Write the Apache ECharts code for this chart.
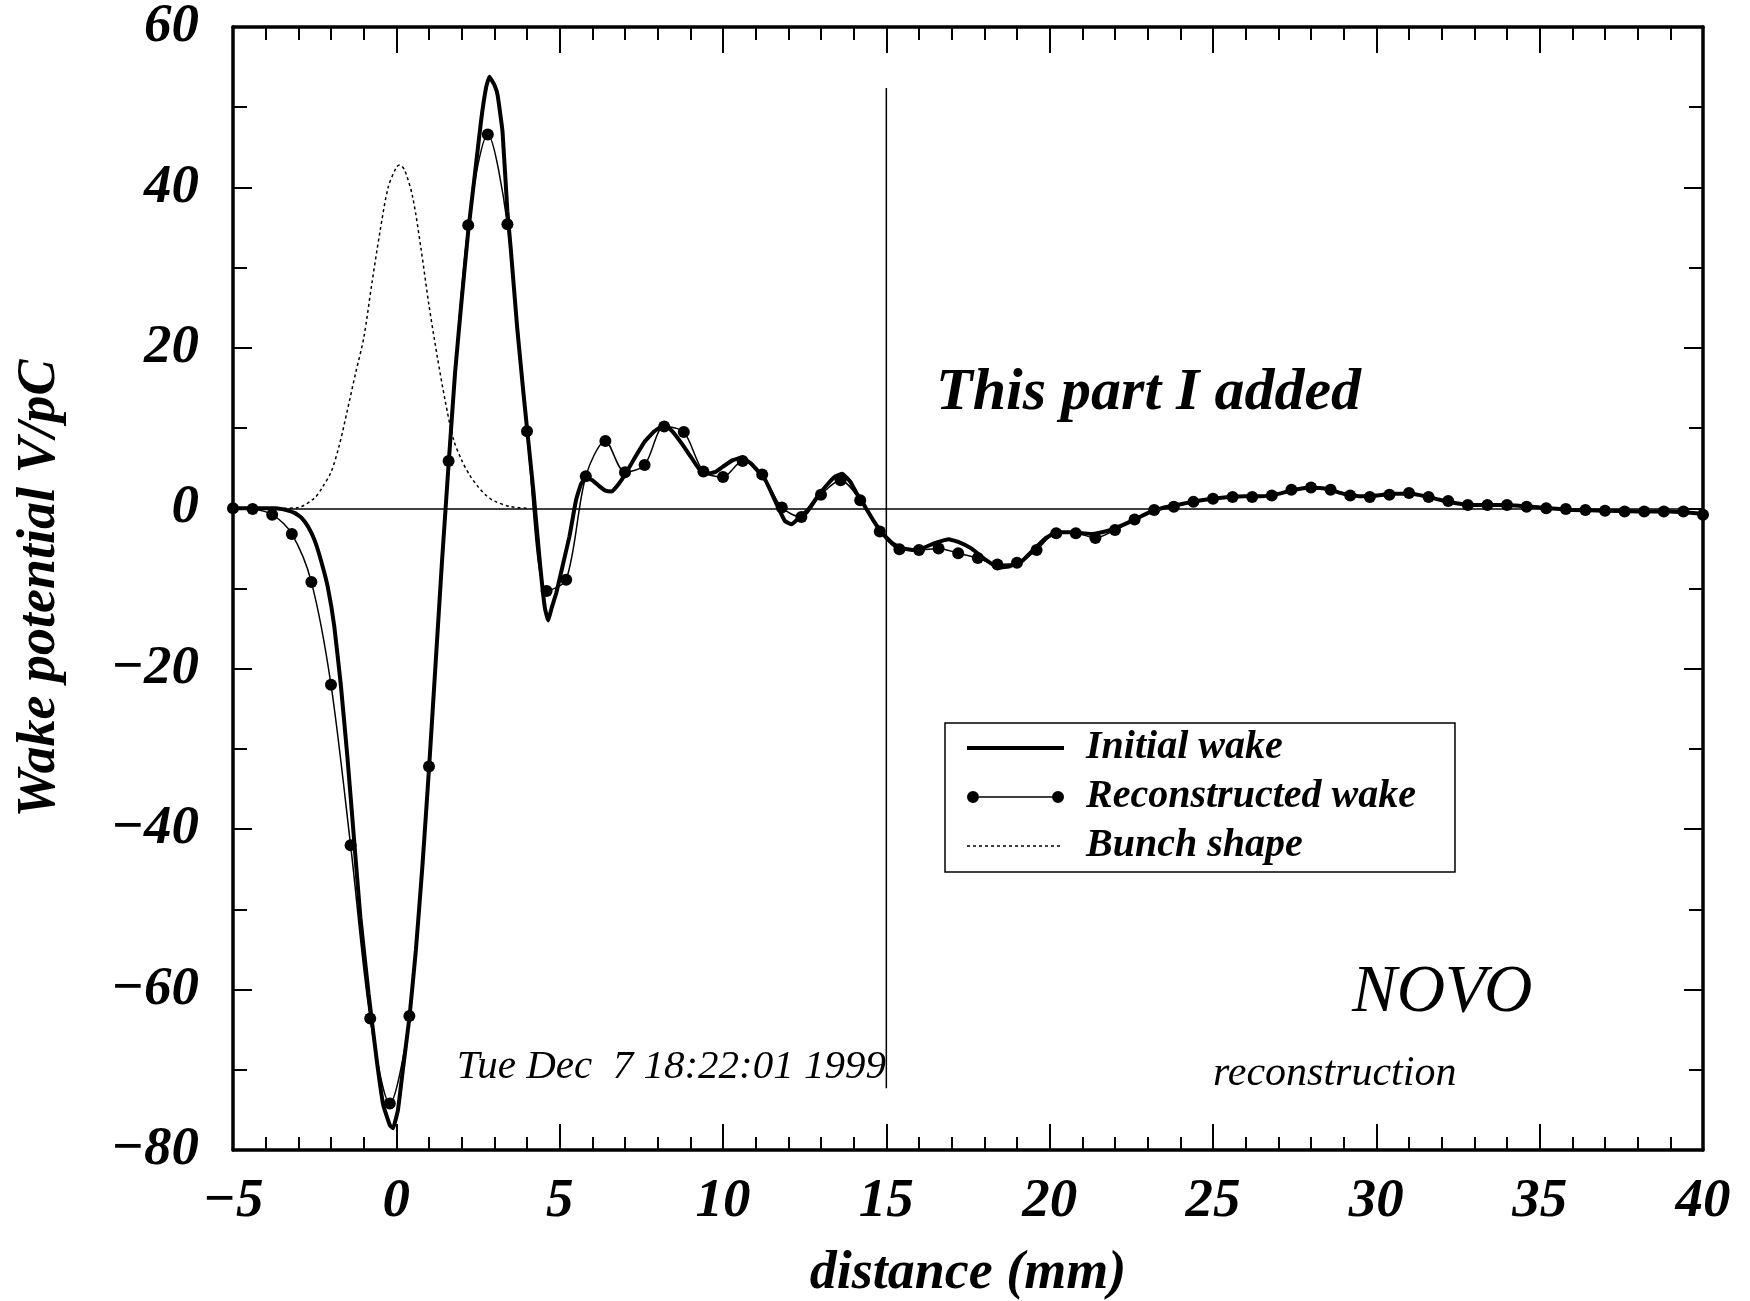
<!DOCTYPE html>
<html>
<head>
<meta charset="utf-8">
<script src="https://cdn.jsdelivr.net/npm/echarts@6/dist/echarts.min.js"></script>
<style>
  html, body { margin: 0; padding: 0; background: #fff; }
  #chart { width: 1750px; height: 1301px; }
</style>
</head>
<body>
<div id="chart"></div>
<script>
// axis ticks
const xTicks = [-5, 0, 5, 10, 15, 20, 25, 30, 35, 40]
const yTicks = [-80, -60, -40, -20, 0, 20, 40, 60]

// initial wake (thick line)
const initX = [-5, -4.5, -4, -3.7, -3.4, -3.1, -2.9, -2.7, -2.5, -2.3, -2.1, -1.9, -1.7, -1.5, -1.3, -1.1, -0.85, -0.6, -0.4, -0.2, -0.1,
  0.05, 0.2, 0.4, 0.6, 0.8, 1.0, 1.2, 1.4, 1.6, 1.8, 2.0, 2.2, 2.4, 2.6, 2.75, 2.85, 3.0, 3.1, 3.25, 3.4, 3.5, 3.7, 3.9, 4.05,
  4.2, 4.4, 4.55, 4.65, 4.75, 4.9, 5.1, 5.3, 5.5, 5.65, 5.8, 6.0, 6.2, 6.4, 6.6, 6.8, 7.0, 7.3, 7.6, 7.9, 8.2, 8.45, 8.75,
  9.0, 9.25, 9.5, 9.75, 10.0, 10.3, 10.55, 10.85, 11.1, 11.3, 11.5, 11.7, 11.9, 12.1, 12.3, 12.6, 12.9, 13.2, 13.45, 13.65,
  13.9, 14.1, 14.35, 14.6, 14.9, 15.2, 15.5, 15.8, 16.1, 16.5, 16.9, 17.2, 17.6, 18.0, 18.45, 18.8, 19.15, 19.5, 19.85, 20.2,
  20.6, 21.0, 21.3, 21.7, 22.0, 22.5, 23.0, 23.5, 24.0, 24.5, 25.0, 25.5, 26.0, 26.5, 27.0, 27.5, 28.0, 28.5, 29.0, 29.5,
  30.0, 30.5, 31.0, 31.5, 32.0, 32.5, 33.0, 34.0, 35.0, 36.0, 37.0, 38.0, 39.0, 40.0]
const initY = [0, 0, 0, 0, -0.2, -0.6, -1.2, -2.3, -4.0, -6.6, -9.8, -14.7, -22, -30.9, -41, -51, -60.5, -68.8, -74.4, -76.9, -77.3,
  -75, -70, -63.5, -55, -44.5, -32.5, -19.5, -6.5, 5.5, 17, 26, 34.5, 41.5, 48.5, 52.5, 53.8, 52.8, 51.5, 47, 37, 32.5, 22.5, 14, 8,
  2, -7, -12.5, -14, -12.5, -10.5, -7, -3.5, 1.0, 3.0, 3.8, 3.5, 2.8, 2.2, 2.1, 3.0, 4.2, 6.3, 8.3, 9.6, 10.4, 9.6, 8.0,
  6.5, 5.0, 4.3, 4.5, 5.2, 6.0, 6.3, 5.6, 4.5, 3.5, 1.8, 0, -1.6, -2.0, -1.3, -0.2, 1.5, 3.0, 4.0, 4.3,
  3.3, 1.8, 0.2, -1.5, -3.2, -4.4, -5.0, -5.2, -5.0, -4.3, -3.85, -4.2, -5.0, -6.3, -7.4, -7.2, -6.6, -5.2, -3.8, -3.0,
  -3.0, -3.1, -3.2, -2.9, -2.5, -1.6, -0.6, 0.1, 0.5, 0.9, 1.2, 1.4, 1.5, 1.5, 1.8, 2.3, 2.6, 2.4, 1.8, 1.5,
  1.6, 1.8, 1.8, 1.5, 1.0, 0.6, 0.4, 0.4, 0.1, -0.2, -0.3, -0.4, -0.4, -0.7]

// reconstructed wake (thin line with dots)
const reconX = [-5.0, -4.4, -3.8, -3.2, -2.6, -2.0, -1.4, -0.8, -0.2, 0.4, 1.0, 1.6, 2.2, 2.8, 3.4, 4.0, 4.6, 5.2, 5.8, 6.4,
  7.0, 7.6, 8.2, 8.8, 9.4, 10.0, 10.6, 11.2, 11.8, 12.4, 13.0, 13.6, 14.2, 14.8, 15.4, 16.0, 16.6, 17.2, 17.8, 18.4,
  19.0, 19.6, 20.2, 20.8, 21.4, 22.0, 22.6, 23.2, 23.8, 24.4, 25.0, 25.6, 26.2, 26.8, 27.4, 28.0, 28.6, 29.2, 29.8, 30.4,
  31.0, 31.6, 32.2, 32.8, 33.4, 34.0, 34.6, 35.2, 35.8, 36.4, 37.0, 37.6, 38.2, 38.8, 39.4, 40.0]
const reconY = [0, -0.1, -0.8, -3.2, -9.2, -22, -42, -63.6, -74.2, -63.3, -32.2, 5.9, 35.3, 46.6, 35.4, 9.6, -10.3, -8.9, 4.0, 8.4,
  4.5, 5.4, 10.2, 9.5, 4.6, 3.9, 5.9, 4.2, 0.1, -1.1, 1.7, 3.5, 1.0, -2.9, -5.1, -5.2, -5.0, -5.6, -6.2, -7.0,
  -6.8, -5.2, -3.1, -3.1, -3.7, -2.7, -1.4, -0.2, 0.2, 0.8, 1.2, 1.4, 1.4, 1.6, 2.3, 2.6, 2.3, 1.6, 1.4, 1.7,
  1.9, 1.4, 0.9, 0.4, 0.4, 0.4, 0.2, 0, -0.1, -0.2, -0.3, -0.4, -0.4, -0.4, -0.4, -0.8]

// bunch shape (dotted)
const bunchX = [-4, -3.5, -3, -2.5, -2.25, -2, -1.75, -1.5, -1.25, -1, -0.75, -0.5, -0.25, 0, 0.1, 0.25, 0.5, 0.75, 1, 1.25,
  1.5, 1.75, 2, 2.25, 2.5, 2.75, 3, 3.5, 4]
const bunchY = [0, 0, 0.1, 1.3, 2.7, 4.5, 7.8, 12.2, 16.8, 21.2, 28, 34.5, 40, 42.5, 42.8, 42.2, 38.8, 32.5, 25.3, 19,
  13.3, 8.6, 6.0, 4.1, 2.7, 1.6, 0.9, 0.2, 0]

// vertical divider at 15 mm
const divX = [15, 15]
const divY = [52.4, -72.3]

const FONT = '"Liberation Serif", "DejaVu Serif", serif'

function pairs(xs, ys) {
  return xs.map((x, i) => [x, ys[i]])
}
function minus(v) {
  return String(v).replace('-', '\u2212')
}

// legend icons, all in a 97x12 box (degenerate corners keep the box size)
const boxCorners = ' M0,0L0.01,0L0,0.01Z M97,12L96.99,12L97,11.99Z'
const initIcon = 'path://M0,4h97v4h-97z' + boxCorners
const reconIcon = 'path://M0,6a6,6 0 1,0 12,0a6,6 0 1,0 -12,0z M12,5.25h73v1.5h-73z M85,6a6,6 0 1,0 12,0a6,6 0 1,0 -12,0z' + boxCorners
let bunchIcon = 'path://'
for (let i = 0; i < 16; i++) {
  bunchIcon += 'M' + (i * 6) + ',5.3h3v1.4h-3z '
}
bunchIcon += boxCorners

let chart = echarts.init(document.getElementById('chart'))

let frameX = {
  type: 'value',
  min: xTicks[0],
  max: xTicks[xTicks.length - 1],
  interval: xTicks[1] - xTicks[0],
  axisLine: { onZero: false, lineStyle: { color: '#000', width: 3.5 } },
  axisTick: { inside: true, length: 26, lineStyle: { color: '#000', width: 2 } },
  minorTick: { show: true, splitNumber: 5, length: 13, lineStyle: { color: '#000', width: 2 } },
  splitLine: { show: false }
}
let frameY = {
  type: 'value',
  min: yTicks[0],
  max: yTicks[yTicks.length - 1],
  interval: yTicks[1] - yTicks[0],
  axisLine: { onZero: false, lineStyle: { color: '#000', width: 3.5 } },
  axisTick: { inside: true, length: 19, lineStyle: { color: '#000', width: 2 } },
  minorTick: { show: true, splitNumber: 2, length: 14, lineStyle: { color: '#000', width: 2 } },
  splitLine: { show: false }
}
let labelFont = {
  fontFamily: FONT,
  fontWeight: 'bold',
  fontStyle: 'italic',
  fontSize: 55,
  color: '#000'
}

let option = {
  animation: false,
  backgroundColor: '#fff',
  grid: { left: 233, right: 47, top: 27, bottom: 151, outerBoundsMode: 'none' },
  xAxis: [
    Object.assign({}, frameX, {
      position: 'bottom',
      axisLabel: Object.assign({ margin: 24, formatter: minus }, labelFont),
      name: 'distance (mm)',
      nameLocation: 'middle',
      nameGap: 97,
      nameTextStyle: Object.assign({}, labelFont, { fontSize: 54 })
    }),
    Object.assign({}, frameX, { position: 'top', axisLabel: { show: false } })
  ],
  yAxis: [
    Object.assign({}, frameY, {
      position: 'left',
      axisLabel: Object.assign({ margin: 34, formatter: minus }, labelFont),
      name: 'Wake potential V/pC',
      nameLocation: 'middle',
      nameGap: 166,
      nameTextStyle: Object.assign({}, labelFont, { fontSize: 54 })
    }),
    Object.assign({}, frameY, { position: 'right', axisLabel: { show: false } })
  ],
  legend: {
    orient: 'vertical',
    left: 945,
    top: 723,
    data: [
      { name: 'Initial wake', icon: initIcon },
      { name: 'Reconstructed wake', icon: reconIcon },
      { name: 'Bunch shape', icon: bunchIcon }
    ],
    itemWidth: 97,
    itemHeight: 12,
    itemGap: 5,
    padding: [3, 39, 4, 22],
    borderColor: '#000',
    borderWidth: 1.5,
    selectedMode: false,
    itemStyle: { color: '#000', borderWidth: 0 },
    textStyle: {
      fontFamily: FONT,
      fontWeight: 'bold',
      fontStyle: 'italic',
      fontSize: 40,
      lineHeight: 44,
      color: '#000',
      padding: [0, 0, 0, 17]
    }
  },
  graphic: [
    {
      type: 'text', x: 936, y: 393,
      style: { text: 'This part I added', font: 'italic bold 60px ' + FONT, fill: '#000', verticalAlign: 'middle', textVerticalAlign: 'middle' }
    },
    {
      type: 'text', x: 1352, y: 993,
      style: { text: 'NOVO', font: 'italic 67px ' + FONT, fill: '#000', verticalAlign: 'middle', textVerticalAlign: 'middle' }
    },
    {
      type: 'text', x: 1213, y: 1074,
      style: { text: 'reconstruction', font: 'italic 42px ' + FONT, fill: '#000', verticalAlign: 'middle', textVerticalAlign: 'middle' }
    },
    {
      type: 'text', x: 886, y: 1067,
      style: { text: 'Tue Dec  7 18:22:01 1999', font: 'italic 41px ' + FONT, fill: '#000', align: 'right', textAlign: 'right', verticalAlign: 'middle', textVerticalAlign: 'middle' }
    }
  ],
  series: [
    {
      name: 'Bunch shape',
      type: 'line',
      data: pairs(bunchX, bunchY),
      symbol: 'none',
      smooth: 0.3,
      lineStyle: { color: '#000', width: 1.5, type: [3, 3] },
      itemStyle: { color: '#000' },
      z: 2
    },
    {
      name: 'Reconstructed wake',
      type: 'line',
      data: pairs(reconX, reconY),
      symbol: 'circle',
      symbolSize: 12,
      smooth: 0.3,
      lineStyle: { color: '#000', width: 1.5 },
      itemStyle: { color: '#000' },
      z: 3
    },
    {
      name: 'Initial wake',
      type: 'line',
      data: pairs(initX, initY),
      symbol: 'none',
      smooth: 0.1,
      lineStyle: { color: '#000', width: 4 },
      itemStyle: { color: '#000' },
      z: 4,
      markLine: {
        silent: true,
        symbol: 'none',
        label: { show: false },
        lineStyle: { color: '#000', width: 1.5, type: 'solid' },
        data: [{ yAxis: 0 }]
      }
    },
    {
      name: 'divider',
      type: 'line',
      data: pairs(divX, divY),
      symbol: 'none',
      lineStyle: { color: '#000', width: 1.5 },
      z: 1
    }
  ]
}

chart.setOption(option)
</script>
</body>
</html>
